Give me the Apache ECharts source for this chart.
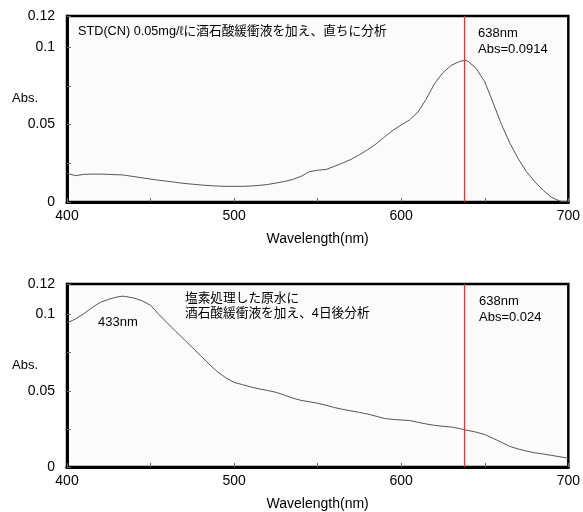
<!DOCTYPE html>
<html>
<head>
<meta charset="utf-8">
<script src="https://cdn.jsdelivr.net/npm/echarts@6/dist/echarts.min.js"></script>
<style>
html,body{margin:0;padding:0;background:#fff;}
#main{width:583px;height:512px;}
</style>
</head>
<body>
<div id="main"></div>
<script>
// Wavelengths (nm)
var wavelengths = [400,405,410,415,420,425,430,433,435,440,445,450,455,460,465,470,475,480,485,490,495,500,505,510,515,520,525,530,535,540,545,550,555,560,565,570,575,580,585,590,595,600,605,610,615,620,625,630,635,638,640,645,650,655,660,665,670,675,680,685,690,695,700];
// Top: STD(CN) 0.05mg/l, analysed immediately
var absStd = [0.0185,0.0170,0.0178,0.0180,0.0180,0.0178,0.0176,0.0175,0.0172,0.0164,0.0156,0.0148,0.0140,0.0134,0.0127,0.0120,0.0115,0.0110,0.0106,0.0103,0.0101,0.0101,0.0101,0.0103,0.0107,0.0113,0.0122,0.0132,0.0145,0.0165,0.0195,0.0205,0.0210,0.0230,0.0252,0.0275,0.0305,0.0338,0.0375,0.0420,0.0462,0.0497,0.0530,0.0580,0.0665,0.0765,0.0835,0.0882,0.0907,0.0914,0.0908,0.0860,0.0775,0.0640,0.0500,0.0380,0.0280,0.0195,0.0130,0.0075,0.0030,0.0005,0.0000];
// Bottom: chlorinated raw water, analysed after 4 days
var absRaw = [0.0945,0.0970,0.1005,0.1045,0.1080,0.1100,0.1115,0.1120,0.1118,0.1108,0.1090,0.1060,0.1000,0.0945,0.0890,0.0838,0.0783,0.0730,0.0675,0.0625,0.0585,0.0555,0.0540,0.0525,0.0512,0.0502,0.0490,0.0472,0.0452,0.0437,0.0428,0.0418,0.0405,0.0390,0.0378,0.0368,0.0358,0.0347,0.0333,0.0318,0.0312,0.0308,0.0305,0.0293,0.0282,0.0273,0.0267,0.0262,0.0252,0.0244,0.0240,0.0228,0.0213,0.0188,0.0162,0.0135,0.0118,0.0104,0.0093,0.0085,0.0076,0.0067,0.0058];
var markWavelength = 638;
var yLabels = ['0','0.05','0.1','0.12'];
var xLabels = ['400','500','600','700'];
var titleTop = 'STD(CN) 0.05mg/ℓに酒石酸緩衝液を加え、直ちに分析';
var titleBottom = ['塩素処理した原水に','酒石酸緩衝液を加え、4日後分析'];
var peakLabelBottom = '433nm';
var markTextTop = ['638nm','Abs=0.0914'];
var markTextBottom = ['638nm','Abs=0.024'];

var FONT = '"Liberation Sans", Arial, "Noto Sans CJK JP", sans-serif';
var CJK = '"Liberation Sans", "Noto Sans CJK JP", sans-serif';
var RED = '#d03a3a';

function pairs(ys){ return wavelengths.map(function(w,i){ return [w, ys[i]]; }); }

function xAxisCfg(idx){
  return {
    type:'value', gridIndex:idx, min:400, max:700, interval:50,
    name:'Wavelength(nm)', nameLocation:'middle', nameGap:30,
    nameTextStyle:{fontFamily:FONT,fontSize:14,color:'#000'},
    axisLine:{show:true,lineStyle:{color:'#000',width:3}},
    axisTick:{show:true,inside:true,length:4,lineStyle:{color:'#666',width:1}},
    axisLabel:{fontFamily:FONT,fontSize:14,color:'#000',margin:7,
      formatter:function(v){ var s=String(Math.round(v)); return xLabels.indexOf(s)>=0?s:''; }},
    splitLine:{show:false}
  };
}
function yAxisCfg(idx){
  return {
    type:'value', gridIndex:idx, min:0, max:0.12, interval:0.025,
    axisLine:{show:true,lineStyle:{color:'#000',width:3}},
    axisTick:{show:true,inside:true,length:4,lineStyle:{color:'#666',width:1}},
    axisLabel:{fontFamily:FONT,fontSize:14,color:'#000',margin:12,showMaxLabel:true,
      formatter:function(v){
        var r = Math.round(v*1000)/1000;
        var s = String(r);
        return yLabels.indexOf(s)>=0?s:'';
      }},
    splitLine:{show:false}
  };
}
function markLineCfg(){
  return {silent:true,symbol:['none','none'],label:{show:false},
    itemStyle:{color:RED},
    lineStyle:{color:RED,width:1.2,type:'solid',opacity:1},
    emphasis:{disabled:true},
    data:[{xAxis:markWavelength,lineStyle:{color:RED,width:1.2}}]};
}

var chart = echarts.init(document.getElementById('main'), null, {renderer:'canvas'});
chart.setOption({
  backgroundColor:'#fff',
  animation:false,
  grid:[
    {left:67,top:16,width:505,height:186,show:true,borderColor:'#000',borderWidth:2.5,backgroundColor:'#fbfbfb'},
    {left:67,top:284,width:505,height:185,show:true,borderColor:'#000',borderWidth:2.5,backgroundColor:'#fbfbfb'}
  ],
  xAxis:[xAxisCfg(0),xAxisCfg(1)],
  yAxis:[yAxisCfg(0),yAxisCfg(1)],
  series:[
    {type:'line',xAxisIndex:0,yAxisIndex:0,data:pairs(absStd),showSymbol:false,
     lineStyle:{color:'#555',width:1},markLine:markLineCfg()},
    {type:'line',xAxisIndex:1,yAxisIndex:1,data:pairs(absRaw),showSymbol:false,
     lineStyle:{color:'#555',width:1},markLine:markLineCfg()}
  ],
  graphic:[
    {type:'text',left:12,top:92,style:{text:'Abs.',font:'13px '+FONT,fill:'#000'}},
    {type:'text',left:12,top:359,style:{text:'Abs.',font:'13px '+FONT,fill:'#000'}},
    {type:'text',left:78,top:25,style:{text:titleTop,font:'12.7px '+CJK,fill:'#000'}},
    {type:'text',left:478,top:25,style:{text:markTextTop.join('\n'),font:'13px '+FONT,fill:'#000',lineHeight:16}},
    {type:'text',left:185,top:291,style:{text:titleBottom.join('\n'),font:'12.7px '+CJK,fill:'#000',lineHeight:15}},
    {type:'text',left:98,top:316,style:{text:peakLabelBottom,font:'13px '+FONT,fill:'#000'}},
    {type:'text',left:479,top:293,style:{text:markTextBottom.join('\n'),font:'13px '+FONT,fill:'#000',lineHeight:16}}
  ]
});
</script>
</body>
</html>
